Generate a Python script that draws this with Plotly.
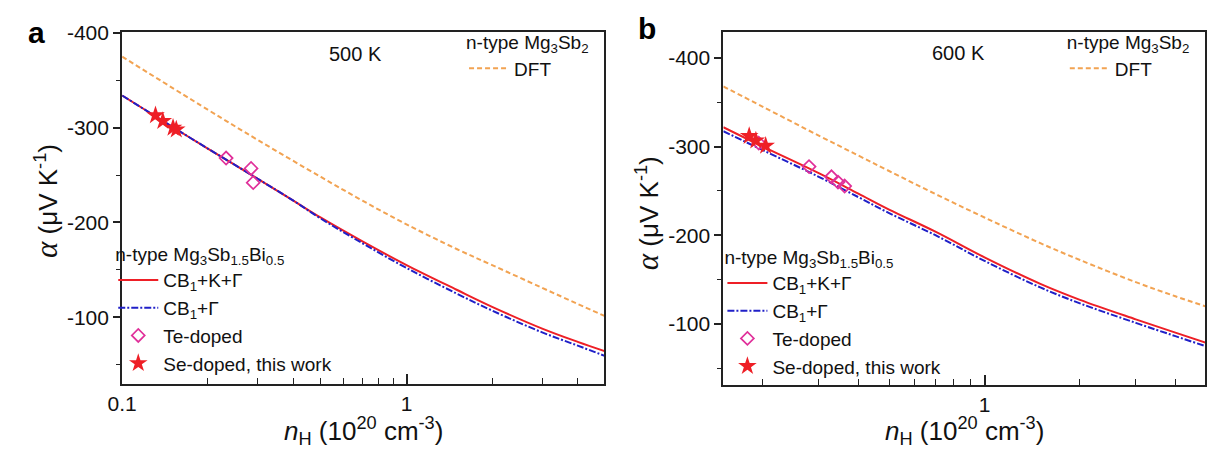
import plotly.graph_objects as go

# ---------------- data ----------------
# panel a (500 K)
xa = [0.1, 0.15, 0.2, 0.3, 0.4, 0.5, 0.7, 1.0, 1.5, 2.0, 3.0, 4.0, 5.0]
red_a = [-334, -301, -278, -246, -223, -205, -180, -155, -129, -111, -88, -74, -64]
blue_a = [-334, -301, -278, -246, -223, -204, -178, -152, -125, -107, -84, -70, -59]
dft_a = [-375, -319, -287, -248, -223, -198, -172, -155, -131, -114, -101]
xa_dft = [0.1, 0.2, 0.3, 0.5, 0.7, 1.0, 1.5, 2.0, 3.0, 4.0, 5.0]
te_a_x = [0.232, 0.284, 0.289]
te_a_y = [-268, -257, -242]
se_a_x = [0.131, 0.139, 0.151, 0.155]
se_a_y = [-313, -307, -300, -298]

# panel b (600 K)
xb = [0.15, 0.2, 0.3, 0.4, 0.5, 0.7, 1.0, 1.5, 2.0, 3.0, 4.0, 5.0]
red_b = [-322, -300, -270, -247, -229, -204, -175, -145, -127, -105, -90, -78.5]
blue_b = [-317.5, -296, -266, -243, -225, -200, -171, -141, -123, -101, -86, -74.5]
dft_b = [-368, -345, -312.5, -290, -272.5, -246.5, -220, -191, -172, -147, -131, -119.5]
te_b_x = [0.194, 0.2795, 0.329, 0.345, 0.362]
te_b_y = [-304, -277.5, -266, -260, -255.5]
se_b_x = [0.181, 0.19, 0.204]
se_b_y = [-312, -307, -301]

x_major_a = [0.1, 1]
x_major_b = [1]
x_minor = [0.2, 0.3, 0.4, 0.5, 0.6, 0.7, 0.8, 0.9, 2, 3, 4]
y_major = [-400, -300, -200, -100]
y_labels = ["-400", "-300", "-200", "-100"]
y_minor = [-350, -250, -150, -50]

# ---------------- style ----------------
RED = "#ee1f26"
BLUE = "#2020c8"
ORANGE = "#f2a352"
PINK = "#e0309a"
FONT = "Arial, Liberation Sans, sans-serif"
W, H = 1208, 463

fig = go.Figure()


def add_panel(xref, yref, x, red, blue, xd, dft, tex, tey, sex, sey, leg, legd):
    fig.add_trace(go.Scatter(x=x, y=red, mode="lines", line=dict(color=RED, width=2, shape="spline"),
                             name="CB<sub>1</sub>+K+Γ", xaxis=xref, yaxis=yref, legend=leg))
    fig.add_trace(go.Scatter(x=x, y=blue, mode="lines",
                             line=dict(color=BLUE, width=2, dash="7px,2px,2px,2px", shape="spline"),
                             name="CB<sub>1</sub>+Γ", xaxis=xref, yaxis=yref, legend=leg))
    fig.add_trace(go.Scatter(x=xd, y=dft, mode="lines",
                             line=dict(color=ORANGE, width=2, dash="5px,3px", shape="spline"),
                             name="DFT", xaxis=xref, yaxis=yref, legend=legd))
    fig.add_trace(go.Scatter(x=tex, y=tey, mode="markers",
                             marker=dict(symbol="diamond-open", size=10, color=PINK, line=dict(width=1.7)),
                             name="Te-doped", xaxis=xref, yaxis=yref, legend=leg))
    fig.add_trace(go.Scatter(x=sex, y=sey, mode="markers",
                             marker=dict(symbol="star", size=14, color=RED, line=dict(width=0)),
                             name="Se-doped, this work", xaxis=xref, yaxis=yref, legend=leg))


add_panel("x", "y", xa, red_a, blue_a, xa_dft, dft_a, te_a_x, te_a_y, se_a_x, se_a_y, "legend", "legend3")
add_panel("x2", "y2", xb, red_b, blue_b, xb, dft_b, te_b_x, te_b_y, se_b_x, se_b_y, "legend2", "legend4")

# geometry (pixels)
ax_l, ax_r = 108.5, 596.7
bx_l, bx_r = 717.3, 1205.0
top = 21.7
a_bot, b_bot = 382.0, 383.3

common_x = dict(type="log", showgrid=False, zeroline=False, showline=True, linecolor="#222", linewidth=2,
                mirror=True, ticks="inside", ticklen=10, tickwidth=1.5, tickcolor="#222",
                tickfont=dict(family=FONT, size=21, color="#111"), tickmode="array",
                ticklabelstandoff=0,
                minor=dict(tickvals=x_minor, ticks="inside", ticklen=6, tickwidth=1.2, tickcolor="#222",
                           showgrid=False))
common_y = dict(showgrid=False, zeroline=False, showline=True, linecolor="#222", linewidth=2,
                mirror=True, ticks="outside", ticklen=7, tickwidth=1.5, tickcolor="#222",
                tickfont=dict(family=FONT, size=21, color="#111"), tickmode="array",
                tickvals=y_major, ticktext=y_labels,
                minor=dict(tickvals=y_minor, ticks="outside", ticklen=4, tickwidth=1.2, tickcolor="#222",
                           showgrid=False))

fig.update_layout(
    width=W, height=H, margin=dict(l=0, r=0, t=0, b=0),
    paper_bgcolor="white", plot_bgcolor="white", showlegend=True,
    xaxis=dict(common_x, domain=[ax_l / W, ax_r / W], range=[-1.0, 0.6955],
               tickvals=x_major_a, ticktext=["0.1", "1"], anchor="y"),
    yaxis=dict(common_y, domain=[1 - a_bot / H, 1 - top / H], range=[-29.6, -400.8], anchor="x"),
    xaxis2=dict(common_x, domain=[bx_l / W, bx_r / W], range=[-0.8237, 0.6956],
                tickvals=x_major_b, ticktext=["1"], anchor="y2"),
    yaxis2=dict(common_y, domain=[1 - b_bot / H, 1 - top / H], range=[-30.6, -429.3], anchor="x2"),
)

leg_common = dict(bgcolor="rgba(0,0,0,0)", borderwidth=0, font=dict(family=FONT, size=19, color="#111"),
                  tracegroupgap=0, itemwidth=40, xanchor="left", yanchor="top", itemclick=False)

fig.update_layout(
    legend=dict(leg_common, x=(ax_l - 9) / W, y=1 - 231 / H,
                title=dict(text="n-type Mg<sub>3</sub>Sb<sub>1.5</sub>Bi<sub>0.5</sub>",
                           font=dict(family=FONT, size=19))),
    legend2=dict(leg_common, x=(bx_l - 1) / W, y=1 - 234 / H,
                 title=dict(text="n-type Mg<sub>3</sub>Sb<sub>1.5</sub>Bi<sub>0.5</sub>",
                            font=dict(family=FONT, size=19))),
    legend3=dict(leg_common, x=(ax_r - 142) / W, y=1 - 14 / H,
                 title=dict(text="n-type Mg<sub>3</sub>Sb<sub>2</sub>", font=dict(family=FONT, size=19))),
    legend4=dict(leg_common, x=(bx_r - 142) / W, y=1 - 14 / H,
                 title=dict(text="n-type Mg<sub>3</sub>Sb<sub>2</sub>", font=dict(family=FONT, size=19))),
)

ytitle = "<span style='font-family:Liberation Serif;font-size:31px'><i>α</i></span> (μV K<sup>-1</sup>)"
xtitle = "<i>n</i><sub>H</sub> (10<sup>20</sup> cm<sup>-3</sup>)"
ann = []
for cx, cy in [(32, 195), (640, 207)]:
    ann.append(dict(text=ytitle, x=cx / W, y=1 - cy / H, xref="paper", yref="paper", showarrow=False,
                    textangle=-90, font=dict(family=FONT, size=26, color="#111"),
                    xanchor="center", yanchor="middle"))
for cx in [(ax_l + ax_r) / 2, (bx_l + bx_r) / 2]:
    ann.append(dict(text=xtitle, x=cx / W, y=1 - 430 / H, xref="paper", yref="paper", showarrow=False,
                    font=dict(family=FONT, size=26, color="#111"), xanchor="center", yanchor="middle"))
ann.append(dict(text="<b>a</b>", x=22 / W, y=1 - 22 / H, xref="paper", yref="paper", showarrow=False,
                font=dict(family=FONT, size=30, color="#000"), xanchor="center", yanchor="middle"))
ann.append(dict(text="<b>b</b>", x=640 / W, y=1 - 18 / H, xref="paper", yref="paper", showarrow=False,
                font=dict(family=FONT, size=30, color="#000"), xanchor="center", yanchor="middle"))
ann.append(dict(text="500 K", x=345 / W, y=1 - 44 / H, xref="paper", yref="paper", showarrow=False,
                font=dict(family=FONT, size=20, color="#111"), xanchor="center", yanchor="middle"))
ann.append(dict(text="600 K", x=955 / W, y=1 - 43 / H, xref="paper", yref="paper", showarrow=False,
                font=dict(family=FONT, size=20, color="#111"), xanchor="center", yanchor="middle"))
fig.update_layout(annotations=ann)

fig.write_html("out.html")
